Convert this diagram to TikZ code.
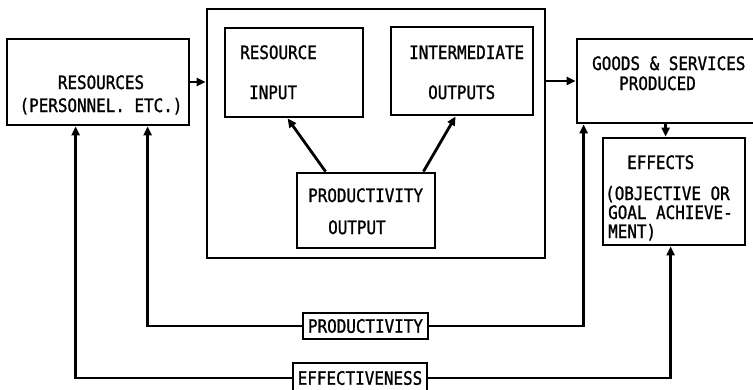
\documentclass[tikz,border=0pt]{standalone}
\usepackage{fontspec}
\newfontfamily\lgfont[FakeStretch=0.86,FakeBold=1.2]{DejaVu Sans Mono}
\usetikzlibrary{arrows.meta,calc}
\begin{document}
\begin{tikzpicture}[x=1pt,y=-1pt,
  box/.style={draw,line width=2.8pt,inner sep=0pt,rectangle},
  txt/.style={anchor=base west,inner sep=0pt,text height=14pt,text depth=2pt,font=\lgfont\fontsize{18.5}{19}\selectfont},
  ctxt/.style={txt,anchor=base},
  lab/.style={draw,line width=2.8pt,inner sep=0pt,fill=white,font=\lgfont\fontsize{18.5}{19}\selectfont},
  conn/.style={line width=2.8pt},
  arr/.style={conn,-{Triangle[length=9pt,width=8pt]}}]
\useasboundingbox (0,0) rectangle (753,389);
% boxes
\node[box,minimum width=182pt,minimum height=86pt] (res) at (98,82) {};
\node[box,minimum width=338pt,minimum height=249pt] (big) at (376,133.5) {};
\node[box,minimum width=138pt,minimum height=89pt] (rin) at (294,72.5) {};
\node[box,minimum width=142pt,minimum height=88pt] (iout) at (462,71) {};
\node[box,minimum width=138pt,minimum height=75pt] (pout) at (366,210.5) {};
\node[box,minimum width=186pt,minimum height=84pt] (goods) at (670,81) {};
\node[box,minimum width=142pt,minimum height=107pt] (eff) at (674,191.5) {};
% texts
\node[ctxt] (t1) at (101,89) {RESOURCES};
\node[ctxt] (t2) at (101,112) {(PERSONNEL. ETC.)};
\node[txt] (t3) at (240,59) {RESOURCE};
\node[txt] (t4) at (249,99) {INPUT};
\node[txt] (t5) at (409,59) {INTERMEDIATE};
\node[txt] (t6) at (428,99) {OUTPUTS};
\node[txt] (t7) at (308,202) {PRODUCTIVITY};
\node[txt] (t8) at (328,234) {OUTPUT};
\node[txt] (t9) at (592,70) {GOODS \& SERVICES};
\node[txt] (t10) at (619,90) {PRODUCED};
\node[txt] (t11) at (627,169) {EFFECTS};
\node[txt] (t12) at (605,200) {(OBJECTIVE OR};
\node[txt] (t13) at (608,219) {GOAL ACHIEVE-};
\node[txt] (t14) at (608,238) {MENT)};
% connectors
\draw[arr] (res.east) -- (res.east -| big.west);
\draw[arr] (big.east |- goods.west) -- (goods.west);
\draw[arr] ($(pout.north west)+(30,0)$) -- ($(rin.south west)+(64,0)$);
\draw[arr] ($(pout.north east)+(-13,0)$) -- ($(iout.south west)+(66,0)$);
\draw[arr] ($(goods.south west)+(90,0)$) -- ($(eff.north west)+(64,0)$);
% feedback loops
\node[lab,minimum width=125pt,minimum height=26pt] (plab) at (365.5,326) {PRODUCTIVITY};
\node[lab,minimum width=134pt,minimum height=30pt] (elab) at (360,378) {EFFECTIVENESS};
\draw[arr] (plab.west) -| ($(res.south west)+(142,0)$);
\draw[arr] (plab.east) -| ($(goods.south west)+(8,0)$);
\draw[arr] (elab.west) -| ($(res.south west)+(70,0)$);
\draw[arr] (elab.east) -| ($(eff.south west)+(69,0)$);
\end{tikzpicture}
\end{document}
